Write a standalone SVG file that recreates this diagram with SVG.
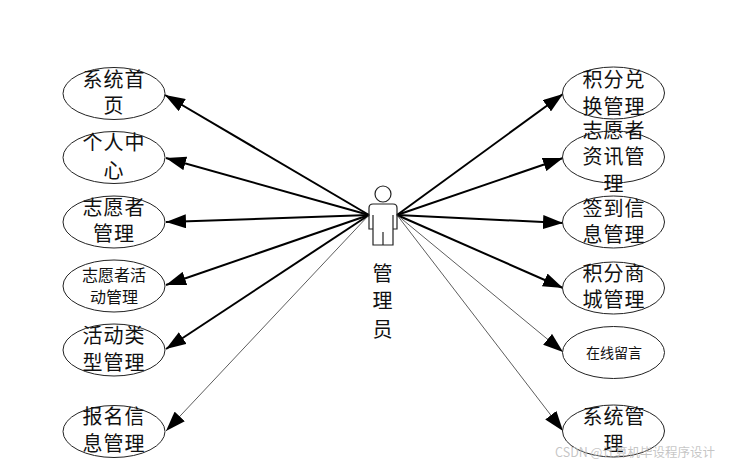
<svg xmlns="http://www.w3.org/2000/svg" width="731" height="466" viewBox="0 0 731 466">
<style>
.n ellipse{fill:#fff;stroke:#222;stroke-width:1}
.a{fill:none;stroke:#222;stroke-width:1.2}
text{font-family:"Noto Sans CJK SC","Liberation Sans",sans-serif;fill:#111;text-anchor:middle}
.l{font-size:20px;letter-spacing:1px}
.m{font-size:16px}
.s{font-size:14px}
.k{stroke:#000;stroke-width:2;fill:none}
.t{stroke:#333;stroke-width:.8;fill:none}
</style>
<defs>
<marker id="h" markerUnits="userSpaceOnUse" markerWidth="20" markerHeight="14" refX="20" refY="7" orient="auto"><path d="M0 0L20 7L0 14Z" fill="#000"/></marker>
</defs>
<rect width="731" height="466" fill="#fff"/>
<g id="connectors">
<path class="k" marker-end="url(#h)" d="M369 215L165 95"/>
<path class="k" marker-end="url(#h)" d="M369 215L166 158"/>
<path class="k" marker-end="url(#h)" d="M369 215L166 222"/>
<path class="k" marker-end="url(#h)" d="M369 215L166 285"/>
<path class="k" marker-end="url(#h)" d="M369 215L166 349"/>
<path class="t" marker-end="url(#h)" d="M369 215L166 431"/>
<path class="k" marker-end="url(#h)" d="M397 215L563 94"/>
<path class="k" marker-end="url(#h)" d="M397 215L563 158"/>
<path class="k" marker-end="url(#h)" d="M397 215L563 223"/>
<path class="k" marker-end="url(#h)" d="M397 215L563 288"/>
<path class="t" marker-end="url(#h)" d="M397 215L563 352"/>
<path class="t" marker-end="url(#h)" d="M397 215L563 431"/>
</g>
<g id="actor">
<circle class="a" cx="383" cy="194" r="8"/>
<path class="a" d="M373 204H393Q397 204 397 208V229H393V245H373V229H369V208Q369 204 373 204ZM373 215V229M393 215V229M383 232V245"/>
<text class="l" x="383" y="281" style="font-size:20px">管</text>
<text class="l" x="383" y="308" style="font-size:20px">理</text>
<text class="l" x="383" y="337" style="font-size:20px">员</text>
</g>
<g id="n1" class="n"><ellipse cx="114" cy="93.5" rx="51" ry="26"/><text class="l" x="114" y="87">系统首</text><text class="l" x="114" y="113">页</text></g>
<g id="n2" class="n"><ellipse cx="114" cy="157.5" rx="51" ry="26"/><text class="l" x="114" y="150">个人中</text><text class="l" x="114" y="178">心</text></g>
<g id="n3" class="n"><ellipse cx="114" cy="222" rx="51" ry="26"/><text class="l" x="114" y="215">志愿者</text><text class="l" x="114" y="241">管理</text></g>
<g id="n4" class="n"><ellipse cx="114" cy="286" rx="51" ry="26"/><text class="m" x="114" y="281">志愿者活</text><text class="m" x="114" y="303">动管理</text></g>
<g id="n5" class="n"><ellipse cx="114" cy="350" rx="51" ry="26"/><text class="l" x="114" y="343">活动类</text><text class="l" x="114" y="370">型管理</text></g>
<g id="n6" class="n"><ellipse cx="114" cy="431.5" rx="51" ry="26"/><text class="l" x="114" y="424">报名信</text><text class="l" x="114" y="451">息管理</text></g>
<g id="n7" class="n"><ellipse cx="613.5" cy="93" rx="51" ry="26"/><text class="l" x="614" y="87">积分兑</text><text class="l" x="614" y="114">换管理</text></g>
<g id="n8" class="n"><ellipse cx="613.5" cy="157" rx="51" ry="26"/><text class="l" x="614" y="138">志愿者</text><text class="l" x="614" y="164">资讯管</text><text class="l" x="614" y="191">理</text></g>
<g id="n9" class="n"><ellipse cx="613.5" cy="222" rx="51" ry="26"/><text class="l" x="614" y="216">签到信</text><text class="l" x="614" y="242">息管理</text></g>
<g id="n10" class="n"><ellipse cx="613.5" cy="288" rx="51" ry="26"/><text class="l" x="614" y="281">积分商</text><text class="l" x="614" y="307">城管理</text></g>
<g id="n11" class="n"><ellipse cx="613.5" cy="352.5" rx="51" ry="26"/><text class="s" x="614" y="358">在线留言</text></g>
<g id="n12" class="n"><ellipse cx="613.5" cy="431" rx="51" ry="26"/><text class="l" x="614" y="424">系统管</text><text class="l" x="614" y="451">理</text></g>
<text x="635" y="457" style="font-size:12.5px;fill:#bbb;fill-opacity:.85">CSDN @计算机毕设程序设计</text>
</svg>
